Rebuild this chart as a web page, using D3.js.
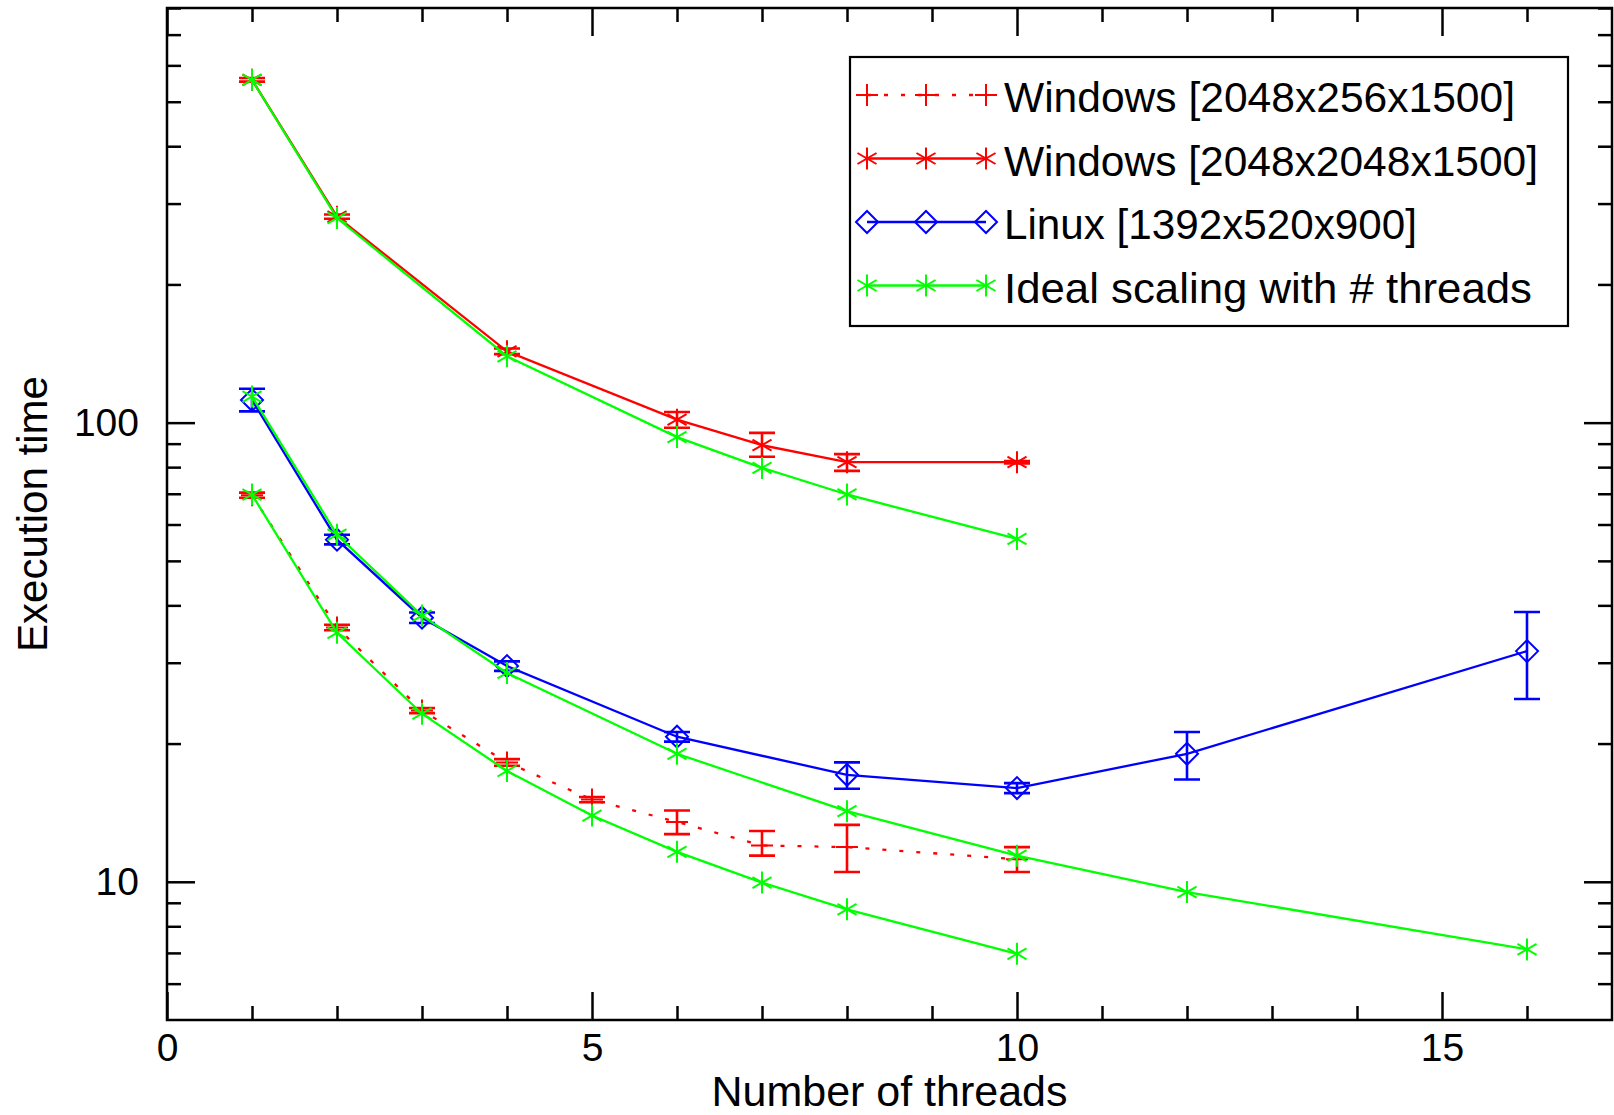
<!DOCTYPE html>
<html>
<head>
<meta charset="utf-8">
<script src="https://cdn.jsdelivr.net/npm/d3@7"></script>
<style>
  html, body { margin: 0; padding: 0; background: #fff; }
  svg { display: block; font-family: "Liberation Sans", Arial, Helvetica, sans-serif; }
</style>
</head>
<body>
<div id="chart"></div>
<script>
// ---- data ----
var threadsWinSmall = [1, 2, 3, 4, 5, 6, 7, 8, 10];
var timeWinSmall    = [69.5, 35.8, 23.6, 18.2, 15.1, 13.5, 12.0, 11.9, 11.2];
var loWinSmall      = [68.6, 35.3, 23.3, 17.9, 14.9, 12.7, 11.4, 10.5, 10.5];
var hiWinSmall      = [70.4, 36.3, 23.9, 18.5, 15.3, 14.3, 12.9, 13.3, 11.9];
var idealWinSmall   = [69.7, 34.85, 23.23, 17.43, 13.94, 11.62, 9.96, 8.71, 6.97];

var threadsWinLarge = [1, 2, 4, 6, 7, 8, 10];
var timeWinLarge    = [558, 281, 143, 101.5, 89.3, 82, 82];
var loWinLarge      = [553, 278, 141, 97.5, 84.3, 78.5, 81.5];
var hiWinLarge      = [563, 284, 145, 105.5, 95, 85.4, 82.5];
var idealWinLarge   = [558, 279, 139.5, 93, 79.7, 69.75, 55.8];

var threadsLinux = [1, 2, 3, 4, 6, 8, 10, 12, 16];
var timeLinux    = [112, 55.6, 37.6, 29.5, 20.7, 17.1, 16.0, 19.0, 31.8];
var loLinux      = [105.8, 54.3, 36.6, 28.8, 20.2, 15.95, 15.6, 16.7, 25.0];
var hiLinux      = [118.5, 57.0, 38.6, 30.2, 21.2, 18.2, 16.4, 21.2, 38.7];
var idealLinux   = [114, 57, 38, 28.5, 19, 14.25, 11.4, 9.5, 7.125];

var xMajorTicks = [0, 5, 10, 15];
var xMinorTicks = [1, 2, 3, 4, 6, 7, 8, 9, 11, 12, 13, 14, 16];
var yMajorTicks = [10, 100];
var yMinorTicks = [6, 7, 8, 9, 20, 30, 40, 50, 60, 70, 80, 90, 200, 300, 400, 500, 600, 700, 800];

var legendLabels = ["Windows [2048x256x1500]", "Windows [2048x2048x1500]",
                    "Linux [1392x520x900]", "Ideal scaling with # threads"];

// ---- layout ----
var width = 1614, height = 1115;
var margin = {left: 167, right: 2, top: 8, bottom: 95};
var x0 = margin.left, x1 = width - margin.right;
var y0 = margin.top, y1 = height - margin.bottom;

var svg = d3.select("#chart")
  .append("svg")
  .attr("width", width)
  .attr("height", height);

var xScale = d3.scaleLinear()
  .domain([0, 17])
  .range([x0, x1]);

var yScale = d3.scaleLog()
  .domain([5, 800])
  .range([y1, y0]);

// ---- axes (IDL style, ticks inward on all four sides) ----
function styleAxis(g) {
  g.select(".domain").remove();
  g.selectAll(".tick line").attr("stroke", "#000").attr("stroke-width", 2.5);
  g.selectAll("text").attr("fill", "#000").attr("font-size", 39)
    .attr("font-family", "Liberation Sans, Arial, sans-serif");
}

svg.append("g")
  .attr("transform", `translate(0,${y1})`)
  .call(d3.axisBottom(xScale).tickValues(xMajorTicks).tickSize(-28).tickPadding(13).tickFormat(d3.format("d")))
  .call(styleAxis);
svg.append("g")
  .attr("transform", `translate(0,${y1})`)
  .call(d3.axisBottom(xScale).tickValues(xMinorTicks).tickSize(-14).tickFormat(""))
  .call(styleAxis);
svg.append("g")
  .attr("transform", `translate(0,${y0})`)
  .call(d3.axisTop(xScale).tickValues(xMajorTicks).tickSize(-28).tickFormat(""))
  .call(styleAxis);
svg.append("g")
  .attr("transform", `translate(0,${y0})`)
  .call(d3.axisTop(xScale).tickValues(xMinorTicks).tickSize(-14).tickFormat(""))
  .call(styleAxis);

svg.append("g")
  .attr("transform", `translate(${x0},0)`)
  .call(d3.axisLeft(yScale).tickValues(yMajorTicks).tickSize(-28).tickPadding(28).tickFormat(d3.format("d")))
  .call(styleAxis);
svg.append("g")
  .attr("transform", `translate(${x0},0)`)
  .call(d3.axisLeft(yScale).tickValues(yMinorTicks).tickSize(-14).tickFormat(""))
  .call(styleAxis);
svg.append("g")
  .attr("transform", `translate(${x1},0)`)
  .call(d3.axisRight(yScale).tickValues(yMajorTicks).tickSize(-28).tickFormat(""))
  .call(styleAxis);
svg.append("g")
  .attr("transform", `translate(${x1},0)`)
  .call(d3.axisRight(yScale).tickValues(yMinorTicks).tickSize(-14).tickFormat(""))
  .call(styleAxis);

// frame
svg.append("rect")
  .attr("x", x0).attr("y", y0)
  .attr("width", x1 - x0).attr("height", y1 - y0)
  .attr("fill", "none").attr("stroke", "#000").attr("stroke-width", 2.5);

// axis titles
svg.append("text")
  .attr("x", (x0 + x1) / 2).attr("y", 1106)
  .attr("text-anchor", "middle")
  .attr("font-size", 42)
  .attr("textLength", 356).attr("lengthAdjust", "spacingAndGlyphs")
  .text("Number of threads");

svg.append("text")
  .attr("transform", `translate(47,${(y0 + y1) / 2}) rotate(-90)`)
  .attr("text-anchor", "middle")
  .attr("font-size", 43)
  .attr("textLength", 276).attr("lengthAdjust", "spacingAndGlyphs")
  .text("Execution time");

// ---- markers ----
function markerPath(type, cx, cy) {
  var r = 11;
  if (type === "plus") {
    return `M${cx - r},${cy}H${cx + r}M${cx},${cy - r}V${cy + r}`;
  }
  if (type === "diamond") {
    return `M${cx - r},${cy}L${cx},${cy - r}L${cx + r},${cy}L${cx},${cy + r}Z`;
  }
  // asterisk: vertical stroke plus two diagonals
  var dx = r * Math.cos(Math.PI / 6), dy = r * Math.sin(Math.PI / 6);
  return `M${cx},${cy - r}V${cy + r}` +
    `M${cx - dx},${cy - dy}L${cx + dx},${cy + dy}` +
    `M${cx - dx},${cy + dy}L${cx + dx},${cy - dy}`;
}

var line = d3.line()
  .x(d => xScale(d.x))
  .y(d => yScale(d.y));

var plotG = svg.append("g").attr("class", "plot");

function drawSeries(xs, ys, color, marker, dash) {
  var pts = xs.map((x, i) => ({x: x, y: ys[i]}));
  plotG.append("path")
    .datum(pts)
    .attr("d", line)
    .attr("fill", "none")
    .attr("stroke", color)
    .attr("stroke-width", 2.3)
    .attr("stroke-dasharray", dash || null);
  plotG.selectAll(null)
    .data(pts)
    .enter()
    .append("path")
    .attr("d", d => markerPath(marker, xScale(d.x), yScale(d.y)))
    .attr("fill", "none")
    .attr("stroke", color)
    .attr("stroke-width", 2);
}

function drawErrors(xs, lo, hi, color) {
  var pts = xs.map((x, i) => ({x: x, lo: lo[i], hi: hi[i]}));
  var g = plotG.append("g")
    .attr("stroke", color)
    .attr("stroke-width", 2.6)
    .attr("fill", "none");
  g.selectAll(null).data(pts).enter().append("path")
    .attr("d", d => {
      var cx = xScale(d.x), ya = yScale(d.lo), yb = yScale(d.hi), c = 13;
      return `M${cx},${ya}V${yb}M${cx - c},${ya}H${cx + c}M${cx - c},${yb}H${cx + c}`;
    });
}

var red = "#ff0000", green = "#00ff00", blue = "#0000ff";

drawSeries(threadsWinSmall, timeWinSmall, red, "plus", "4,13");
drawErrors(threadsWinSmall, loWinSmall, hiWinSmall, red);
drawSeries(threadsWinLarge, timeWinLarge, red, "asterisk");
drawErrors(threadsWinLarge, loWinLarge, hiWinLarge, red);
drawSeries(threadsLinux, timeLinux, blue, "diamond");
drawErrors(threadsLinux, loLinux, hiLinux, blue);
drawSeries(threadsWinSmall, idealWinSmall, green, "asterisk");
drawSeries(threadsWinLarge, idealWinLarge, green, "asterisk");
drawSeries(threadsLinux, idealLinux, green, "asterisk");

// ---- legend ----
var legend = svg.append("g").attr("class", "legend");
legend.append("rect")
  .attr("x", 850).attr("y", 57)
  .attr("width", 718).attr("height", 269)
  .attr("fill", "#fff").attr("stroke", "#000").attr("stroke-width", 2.2);

var legendStyle = [
  {color: red, marker: "plus", dash: "4,13", len: 511},
  {color: red, marker: "asterisk", dash: null, len: 534},
  {color: blue, marker: "diamond", dash: null, len: 413},
  {color: green, marker: "asterisk", dash: null, len: 528}
];
var legendMarkX = [867, 926, 986];

legendLabels.forEach(function(label, i) {
  var s = legendStyle[i];
  var cy = 95 + i * 63.5;
  legend.append("path")
    .attr("d", `M${legendMarkX[0]},${cy}H${legendMarkX[2]}`)
    .attr("stroke", s.color).attr("stroke-width", 2.3)
    .attr("stroke-dasharray", s.dash);
  legendMarkX.forEach(function(mx) {
    legend.append("path")
      .attr("d", markerPath(s.marker, mx, cy))
      .attr("fill", "none").attr("stroke", s.color).attr("stroke-width", 2);
  });
  legend.append("text")
    .attr("x", 1004).attr("y", cy + 17)
    .attr("font-size", 43)
    .attr("textLength", s.len).attr("lengthAdjust", "spacingAndGlyphs")
    .text(label);
});
</script>
</body>
</html>
